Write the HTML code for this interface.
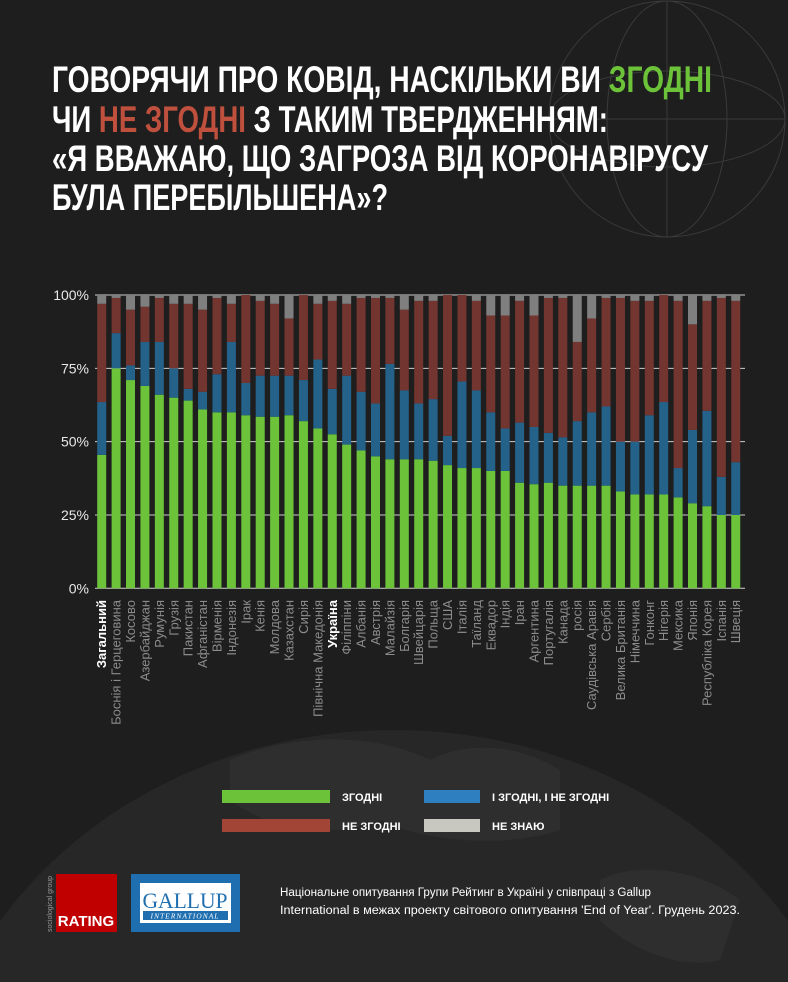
<!DOCTYPE html>
<html><head><meta charset="utf-8"><style>
html,body{margin:0;padding:0;background:#1e1e1e;width:788px;height:982px;overflow:hidden;position:relative;}
svg{display:block;position:absolute;left:0;top:0;}
script{display:none;}
</style></head><body>
<svg id="chart" width="788" height="982" viewBox="0 0 788 982" xmlns="http://www.w3.org/2000/svg" font-family="'Liberation Sans', sans-serif">
<rect width="788" height="982" fill="#1e1e1e"/>
<g fill="none" stroke="#3a3a3a" stroke-width="1">
<circle cx="667" cy="119" r="118"/>
<ellipse cx="667" cy="119" rx="60" ry="118"/>
<ellipse cx="667" cy="119" rx="118" ry="48"/>
<line x1="549" y1="119" x2="785" y2="119"/>
<line x1="667" y1="1" x2="667" y2="237"/>
</g>
<g>
<path d="M0 982 L0 921 A470 420 0 0 1 788 921 L788 982 Z" fill="#272727"/>
<path d="M230 760 C300 730 380 735 430 760 C470 740 520 745 560 770 L560 830 C500 850 420 840 380 820 C330 840 270 830 230 800 Z" fill="#2e2e2e"/>
<path d="M600 880 C640 860 700 870 740 900 L720 960 C680 970 630 950 600 920 Z" fill="#2e2e2e"/>
</g>
<g font-family="'Liberation Sans Narrow','Liberation Sans',sans-serif" font-weight="bold" font-size="37" fill="#ffffff">
<text x="52" y="92" textLength="660" lengthAdjust="spacingAndGlyphs">ГОВОРЯЧИ ПРО КОВІД, НАСКІЛЬКИ ВИ <tspan fill="#6cc33a">ЗГОДНІ</tspan></text>
<text x="52" y="132" textLength="556" lengthAdjust="spacingAndGlyphs">ЧИ <tspan fill="#c0503e">НЕ ЗГОДНІ</tspan> З ТАКИМ ТВЕРДЖЕННЯМ:</text>
<text x="52" y="171" textLength="656" lengthAdjust="spacingAndGlyphs">«Я ВВАЖАЮ, ЩО ЗАГРОЗА ВІД КОРОНАВІРУСУ</text>
<text x="52" y="210" textLength="336" lengthAdjust="spacingAndGlyphs">БУЛА ПЕРЕБІЛЬШЕНА»?</text>
</g>
<g id="grid"></g>
<g id="yaxis"></g>
<g id="bars"></g>
<g id="xaxis"></g>
<g font-size="11" font-weight="bold" fill="#ffffff">
<g><rect x="222" y="790" width="108" height="13" fill="#6cc33a"/><text x="342" y="801">ЗГОДНІ</text></g>
<g><rect x="424" y="790" width="56" height="13" fill="#2e7fc0"/><text x="492" y="801">І ЗГОДНІ, І НЕ ЗГОДНІ</text></g>
<g><rect x="222" y="819" width="108" height="13" fill="#a24536"/><text x="342" y="830">НЕ ЗГОДНІ</text></g>
<g><rect x="424" y="819" width="56" height="13" fill="#c8c8c0"/><text x="492" y="830">НЕ ЗНАЮ</text></g>
</g>
<g>
<rect x="56" y="874" width="61" height="58" fill="#c00000"/>
<text x="86" y="926" text-anchor="middle" font-family="'Liberation Sans Narrow','Liberation Sans',sans-serif" font-weight="bold" font-size="15" fill="#fff">RATING</text>
<text transform="translate(52,932) rotate(-90)" font-size="7" fill="#999">sociological group</text>
</g>
<g>
<rect x="131" y="874" width="109" height="58" fill="#1f6fb0"/>
<rect x="140" y="883" width="91" height="40" fill="#fff"/>
<text x="185" y="908" text-anchor="middle" font-family="'Liberation Serif',serif" font-size="22" fill="#1f6fb0" textLength="85" lengthAdjust="spacingAndGlyphs">GALLUP</text>
<rect x="143" y="911" width="85" height="9" fill="#1f6fb0"/>
<text x="185" y="918.5" text-anchor="middle" font-family="'Liberation Serif',serif" font-style="italic" font-size="7.5" fill="#fff" letter-spacing="1">INTERNATIONAL</text>
</g>
<g font-size="11.5" fill="#ffffff" font-family="'Liberation Sans Narrow','Liberation Sans',sans-serif">
<text x="280" y="896" textLength="371" lengthAdjust="spacingAndGlyphs">Національне опитування Групи Рейтинг в Україні у співпраці з Gallup</text>
<text x="280" y="914" textLength="460" lengthAdjust="spacingAndGlyphs">International в межах проекту світового опитування 'End of Year'. Грудень 2023.</text>
</g>
</svg>
<script>
const categories = ["Загальний","Боснія і Герцеговина","Косово","Азербайджан","Румунія","Грузія","Пакистан","Афганістан","Вірменія","Індонезія","Ірак","Кенія","Молдова","Казахстан","Сирія","Північна Македонія","Україна","Філіппіни","Албанія","Австрія","Малайзія","Болгарія","Швейцарія","Польща","США","Італія","Таїланд","Еквадор","Індія","Іран","Аргентина","Португалія","Канада","росія","Саудівська Аравія","Сербія","Велика Британія","Німеччина","Гонконг","Нігерія","Мексика","Японія","Республіка Корея","Іспанія","Швеція"];
const agree = [45.5,75,71,69,66,65,64,61,60,60,59,58.5,58.5,59,57,54.5,52.5,49,47,45,44,44,44,43.5,42,41,41,40,40,36,35.5,36,35,35,35,35,33,32,32,32,31,29,28,25,25];
const mixed = [18,12,5,15,18,10,4,6,13,24,11,14,14,13.5,14,23.5,15.5,23.5,20,18,32.5,23.5,19,21,10,29.5,26.5,20,14.5,20.5,19.5,17,16.5,22,25,27,17,18,27,31.5,10,25,32.5,13,18];
const disagree = [33.5,12,19,12,15,22,29,28,26,13,30,25.5,24.5,19.5,29,19,30,24.5,32,36,22.5,27.5,35,33.5,48,29.5,30.5,33,38.5,41.5,38,46,47.5,27,32,37,49,48,39,36.5,57,36,37.5,61,55];
const dontKnow = agree.map((a,i)=>Math.max(0,100-a-mixed[i]-disagree[i]));
const yTicks = [0,25,50,75,100];
const highlighted = ["Загальний","Україна"];

const NS="http://www.w3.org/2000/svg";
const y0=588.3, y100=295, x0=101.7, step=14.41, bw=9;
const yScale=v=>y0-(y0-y100)*v/100;
const xScale=i=>x0+i*step;
function mk(tag,attrs,parent){const e=document.createElementNS(NS,tag);for(const k in attrs)e.setAttribute(k,attrs[k]);parent.appendChild(e);return e;}
const grid=document.getElementById('grid'), yaxis=document.getElementById('yaxis'), bars=document.getElementById('bars'), xaxis=document.getElementById('xaxis');
yTicks.forEach(t=>{
  const l=mk('line',{x1:95,x2:745,y1:yScale(t),y2:yScale(t),stroke:'#cfcfcf','stroke-width':1},grid);
  
  
  const tx=mk('text',{x:89,y:yScale(t)+5,'text-anchor':'end','font-size':14,fill:'#e8e8e8'},yaxis);
  tx.textContent=t+'%';
  
  
});
const series=[[agree,'#6cc33a','agree'],[mixed,'#25628a','mixed'],[disagree,'#73352f','disagree'],[dontKnow,'#7f7f7f','dont-know']];
categories.forEach((c,i)=>{
  let acc=0;
  const cx=xScale(i);
  series.forEach(([arr,col,nm])=>{
    const v=arr[i];
    const r=mk('rect',{x:cx-bw/2,y:yScale(acc+v),width:bw,height:Math.max(0,yScale(acc)-yScale(acc+v)),fill:col},bars);
    
    
    acc+=v;
  });
  const hl=highlighted.includes(c);
  const t=mk('text',{transform:`translate(${cx+4.5},600) rotate(-90)`,'text-anchor':'end','font-size':13,fill:hl?'#ffffff':'#8c8c8c','font-weight':hl?'bold':'normal'},xaxis);
  t.textContent=c;
  
  
});
</script>
</body></html>
